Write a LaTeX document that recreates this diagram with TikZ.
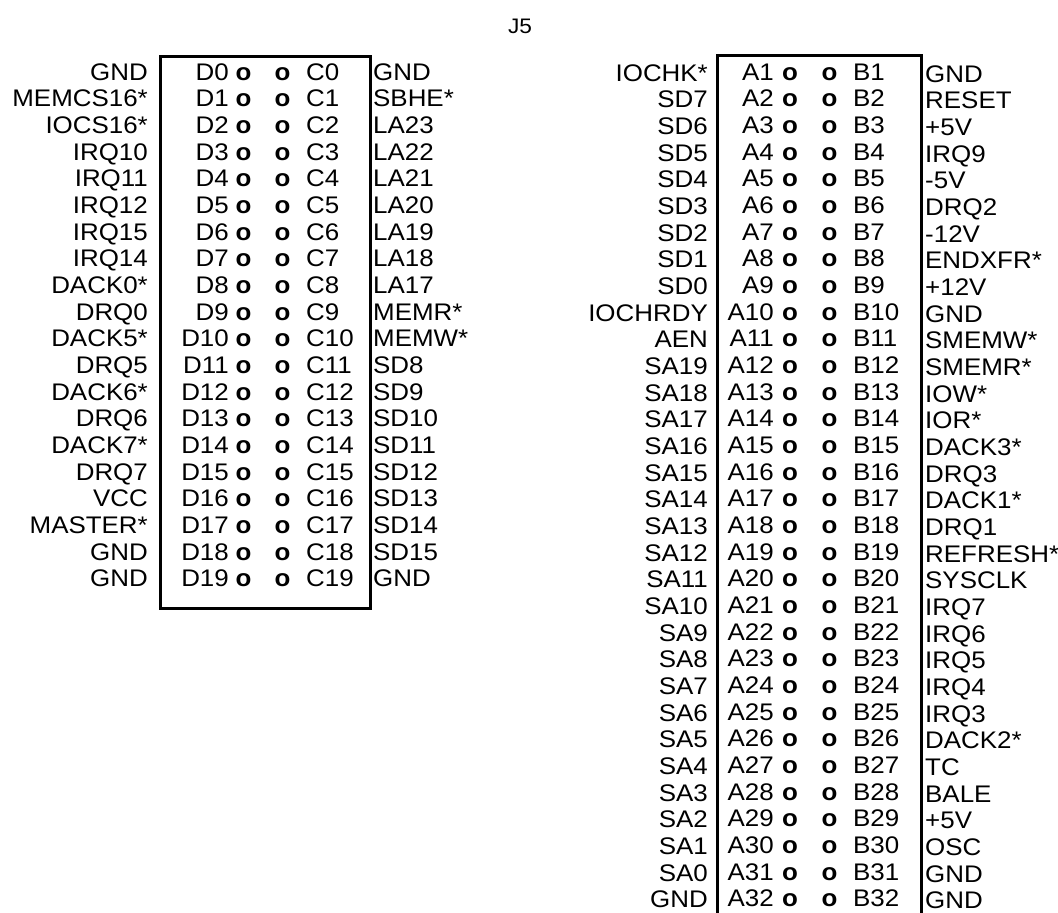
\documentclass[tikz,border=0pt]{standalone}
\usepackage{fontspec}
\setmainfont[FakeStretch=1.08]{Liberation Sans}
\begin{document}
\begin{tikzpicture}[x=1pt,y=-1pt,
  lbl/.style={inner sep=0pt,font=\fontsize{24}{24}\selectfont},
  re/.style={lbl,anchor=base east},
  lw/.style={lbl,anchor=base west},
  pin/.style={lbl,anchor=base,font=\fontsize{24}{24}\selectfont\bfseries},
  boxline/.style={line width=3pt}]
\useasboundingbox (0,0) rectangle (1058,913);
\node[lbl,anchor=base,font=\fontsize{21}{21}\selectfont] (title) at (520,33) {J5};
% left connector
\node[draw,boxline,anchor=north west,minimum width=210,minimum height=552,inner sep=0pt] (boxL) at (159,55) {};
\foreach \a/\b [count=\i from 0] in {GND/GND,MEMCS16*/SBHE*,IOCS16*/LA23,IRQ10/LA22,IRQ11/LA21,IRQ12/LA20,IRQ15/LA19,IRQ14/LA18,DACK0*/LA17,DRQ0/MEMR*,DACK5*/MEMW*,DRQ5/SD8,DACK6*/SD9,DRQ6/SD10,DACK7*/SD11,DRQ7/SD12,VCC/SD13,MASTER*/SD14,GND/SD15,GND/GND}{
  \pgfmathsetmacro{\yy}{80+26.67*\i}
  \node[re] (lsig\i) at (148,\yy) {\a};
  \node[re] (lpinD\i) at (229,\yy) {D\i};
  \node[pin] (lo1\i) at (243.5,\yy) {o};
  \node[pin] (lo2\i) at (282.5,\yy) {o};
  \node[lw] (lpinC\i) at (306,\yy) {C\i};
  \node[lw] (rsig\i) at (373,\yy) {\b};
}
% right connector
\draw[boxline] (717,920) -- (717,55) -- (921,55) -- (921,920);
\foreach \a/\b [count=\i from 1] in {IOCHK*/GND,SD7/RESET,SD6/+5V,SD5/IRQ9,SD4/-5V,SD3/DRQ2,SD2/-12V,SD1/ENDXFR*,SD0/+12V,IOCHRDY/GND,AEN/SMEMW*,SA19/SMEMR*,SA18/IOW*,SA17/IOR*,SA16/DACK3*,SA15/DRQ3,SA14/DACK1*,SA13/DRQ1,SA12/REFRESH*,SA11/SYSCLK,SA10/IRQ7,SA9/IRQ6,SA8/IRQ5,SA7/IRQ4,SA6/IRQ3,SA5/DACK2*,SA4/TC,SA3/BALE,SA2/+5V,SA1/OSC,SA0/GND,GND/GND}{
  \pgfmathsetmacro{\yy}{80+26.67*(\i-1)}
  \node[re] (asig\i) at (708,\yy+1) {\a};
  \node[re] (apin\i) at (774,\yy) {A\i};
  \node[pin] (ao1\i) at (790,\yy) {o};
  \node[pin] (ao2\i) at (829.5,\yy) {o};
  \node[lw] (bpin\i) at (853,\yy) {B\i};
  \node[lw] (bsig\i) at (925,\yy+2) {\b};
}
\end{tikzpicture}
\end{document}
